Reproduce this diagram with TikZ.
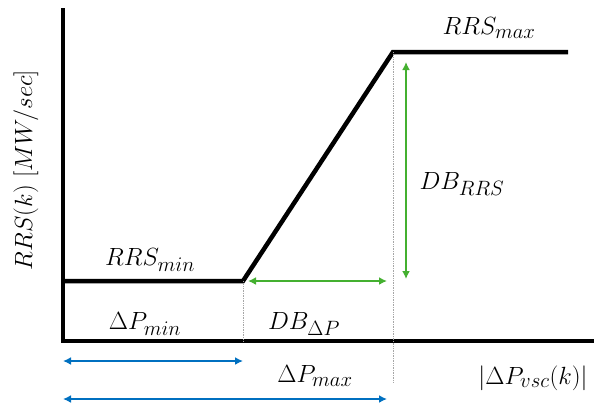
\documentclass[tikz,border=0pt]{standalone}
\usetikzlibrary{arrows.meta}
\newcommand\mysub[1]{_{\mbox{\fontsize{21}{23}\selectfont$#1$}}}
\begin{document}
\begin{tikzpicture}[x=1pt,y=-1pt,
  axisline/.style={line width=4.5pt,line cap=butt,line join=miter},
  curve/.style={line width=4.5pt,line join=miter},
  guide/.style={gray!70,line width=0.7pt,densely dotted},
  gdim/.style={draw={rgb,255:red,68;green,176;blue,48},line width=2.2pt,{Latex[length=8pt,width=8pt]}-{Latex[length=8pt,width=8pt]}},
  bdim/.style={draw={rgb,255:red,0;green,112;blue,192},line width=2.2pt,{Latex[length=8pt,width=8pt]}-{Latex[length=8pt,width=8pt]}},
  lbl/.style={font=\fontsize{25}{30}\selectfont,inner sep=0pt}]
\useasboundingbox (0,0) rectangle (594,408);
% axes
\coordinate (ytop) at (63,8);
\coordinate (orig) at (63,341);
\coordinate (xend) at (594,341);
\draw[axisline] (ytop) -- (orig) -- (xend);
% curve
\coordinate (c0) at (63,281);
\coordinate (c1) at (243,281);
\coordinate (c2) at (393,52);
\coordinate (c3) at (568,52);
\draw[curve] (c0) -- (c1) -- (c2) -- (c3);
% guides
\coordinate (g1) at (243,341);
\coordinate (g2) at (393,382);
\draw[guide] (c1) -- (g1);
\draw[guide] (c2) -- (g2);
% green dims
\coordinate (h0) at (248,281);
\coordinate (h1) at (387,281);
\draw[gdim] (h0) -- (h1);
\coordinate (v0) at (406,62);
\coordinate (v1) at (406,279);
\draw[gdim] (v0) -- (v1);
% blue dims
\coordinate (b0) at (63,361);
\coordinate (b1) at (243,361);
\draw[bdim] (b0) -- (b1);
\coordinate (b2) at (63,399);
\coordinate (b3) at (387,399);
\draw[bdim] (b2) -- (b3);
% labels
\node[lbl] (rmax) at (489,28) {$RRS\mysub{max}$};
\node[lbl] (rmin) at (150,260) {$RRS\mysub{min}$};
\node[lbl] (pmin) at (145,324) {$\Delta P\mysub{min}$};
\node[lbl] (dbp) at (304,324) {$DB\mysub{\Delta P}$};
\node[lbl] (dbr) at (462,184) {$DB\mysub{RRS}$};
\node[lbl] (pmax) at (315,376) {$\Delta P\mysub{max}$};
\node[lbl] (pvsc) at (533,378) {$|\Delta P\mysub{vsc}(k)|$};
\node[lbl,rotate=90] (ylab) at (26,170) {$RRS(k)\ [MW/sec]$};
\end{tikzpicture}
\end{document}
